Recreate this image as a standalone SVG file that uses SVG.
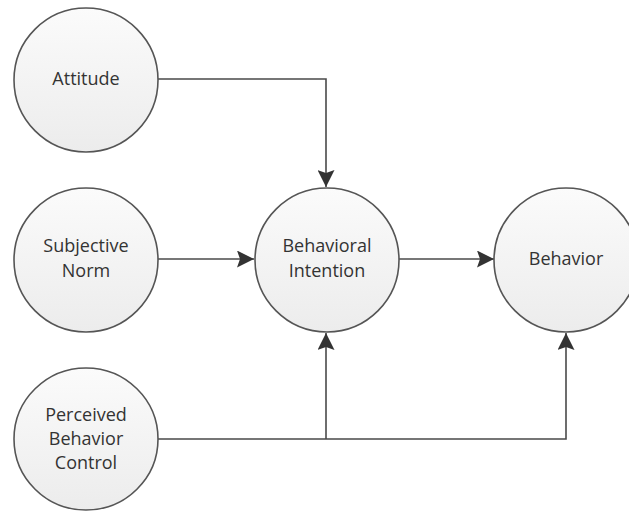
<svg xmlns="http://www.w3.org/2000/svg" width="629" height="512" viewBox="0 0 629 512">
<style>
.node ellipse{fill:url(#g);stroke:#555;stroke-width:1.6}
.node text{font-family:"Open Sans","Noto Sans",sans-serif;font-size:18px;fill:#333;text-anchor:middle}
.conn path{fill:none;stroke:#4a4a4a;stroke-width:1.6}
</style>
<defs>
<linearGradient id="g" x1="0" y1="0" x2="0" y2="1">
<stop offset="0" stop-color="#fbfbfb"/>
<stop offset="1" stop-color="#ececec"/>
</linearGradient>
<marker id="ah" viewBox="0 0 17 17" refX="17" refY="8.5" markerWidth="17" markerHeight="17" markerUnits="userSpaceOnUse" orient="auto">
<path d="M0,0 L17,8.5 L0,17 L3,8.5 Z" fill="#333"/>
</marker>
</defs>
<rect width="629" height="512" fill="#fff"/>
<g class="conn">
<path d="M158,79 H326 V187" marker-end="url(#ah)"/>
<path d="M158,259 H254" marker-end="url(#ah)"/>
<path d="M399,259 H494" marker-end="url(#ah)"/>
<path d="M158,439 H566 V333" marker-end="url(#ah)"/>
<path d="M326,439 V333" marker-end="url(#ah)"/>
</g>
<g id="attitude" class="node"><ellipse cx="86" cy="80" rx="72" ry="72"/><text x="86" y="85">Attitude</text></g>
<g id="subjective-norm" class="node"><ellipse cx="86" cy="260" rx="72" ry="72"/><text x="86" y="252">Subjective</text><text x="86" y="277">Norm</text></g>
<g id="behavioral-intention" class="node"><ellipse cx="327" cy="260" rx="72" ry="72"/><text x="327" y="252">Behavioral</text><text x="327" y="277">Intention</text></g>
<g id="behavior" class="node"><ellipse cx="566" cy="260" rx="72" ry="72"/><text x="566" y="265">Behavior</text></g>
<g id="perceived-behavior-control" class="node"><ellipse cx="86" cy="439" rx="72" ry="71"/><text x="86" y="421">Perceived</text><text x="86" y="445">Behavior</text><text x="86" y="469">Control</text></g>
</svg>
